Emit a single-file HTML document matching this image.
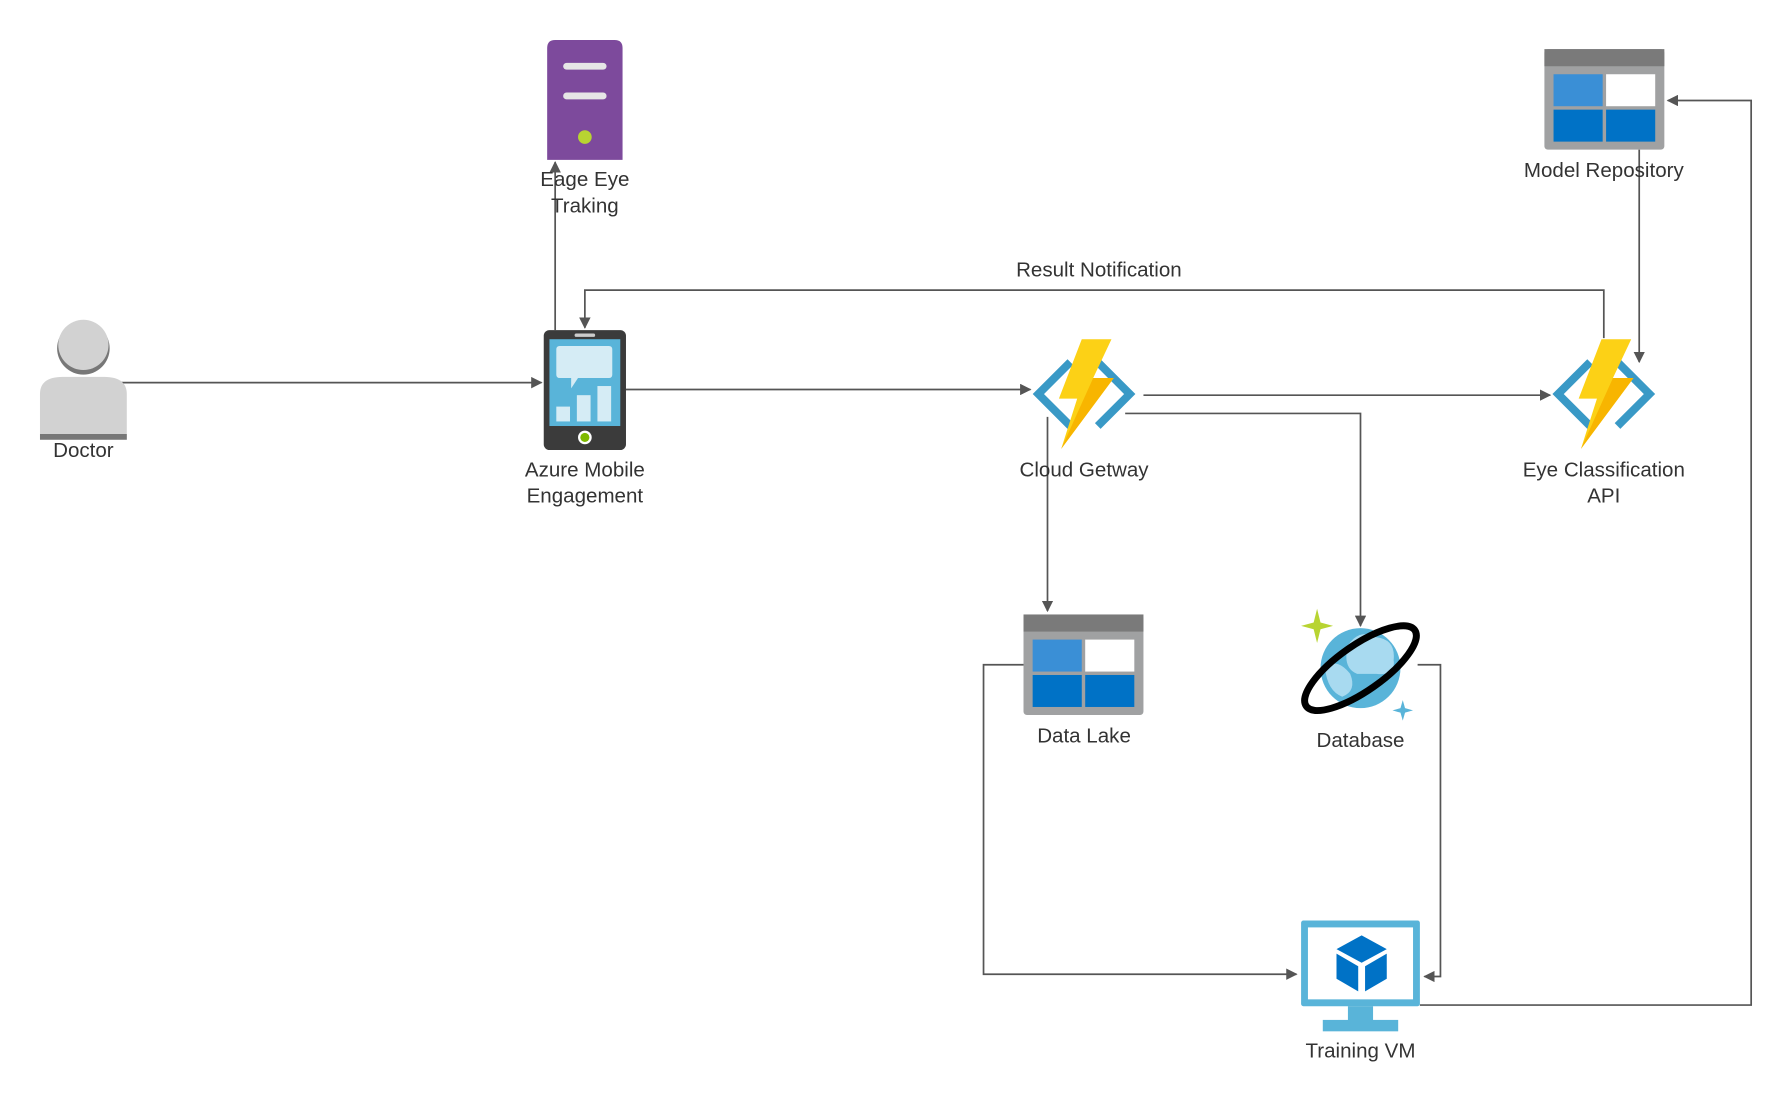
<!DOCTYPE html>
<html><head><meta charset="utf-8"><style>
html,body{margin:0;padding:0;background:#fff;}
svg{display:block;}
text{font-family:"Liberation Sans",sans-serif;font-size:18px;fill:#333;text-anchor:middle;}
</style></head><body>
<svg width="1790" height="1101" viewBox="0 0 1567 964" preserveAspectRatio="none" xmlns="http://www.w3.org/2000/svg">
<defs>
<marker id="a" markerWidth="10" markerHeight="10" refX="9" refY="5" orient="auto" markerUnits="userSpaceOnUse">
<path d="M0,0 L10,5 L0,10 z" fill="#555"/></marker>
<g id="fn">
<path d="M-12,-28 L-40,0 L-12,28" fill="none" stroke="#3999c6" stroke-width="7"/>
<path d="M12,-28 L40,0 L12,28" fill="none" stroke="#3999c6" stroke-width="7"/>
<path d="M-2,-48 L24,-48 L8,-14 L26,-14 L-20,48 L-6,4 L-22,4 z" fill="#fcd116"/>
<path d="M8,-14 L26,-14 L-20,48 z" fill="#f8b500"/>
</g>
<g id="st">
<rect x="0" y="0" width="105" height="88" rx="3" fill="#a0a1a2"/>
<rect x="0" y="0" width="105" height="15" fill="#7a7a7a"/>
<rect x="8" y="22" width="43" height="28" fill="#3a8fd6"/>
<rect x="54" y="22" width="43" height="28" fill="#fff"/>
<rect x="8" y="53" width="43" height="28" fill="#0072c6"/>
<rect x="54" y="53" width="43" height="28" fill="#0072c6"/>
</g>
</defs>
<g fill="none" stroke="#555" stroke-width="1.5">
<path d="M103,335 H474" marker-end="url(#a)"/>
<path d="M486,289 V142" marker-end="url(#a)"/>
<path d="M548,341 H902" marker-end="url(#a)"/>
<path d="M1001,346 H1357" marker-end="url(#a)"/>
<path d="M917,365 V535" marker-end="url(#a)"/>
<path d="M985,362 H1191 V548" marker-end="url(#a)"/>
<path d="M1404,296 V254 H512 V287" marker-end="url(#a)"/>
<path d="M1435,131 V317" marker-end="url(#a)"/>
<path d="M896,582 H861 V853 H1135" marker-end="url(#a)"/>
<path d="M1241,582 H1261 V855 H1247" marker-end="url(#a)"/>
<path d="M1243,880 H1533 V88 H1460" marker-end="url(#a)"/>
</g>
<circle cx="73" cy="305" r="23" fill="#777"/>
<circle cx="73" cy="302" r="22" fill="#d2d2d2"/>
<path d="M35,385 V345 Q35,330 55,330 H91 Q111,330 111,345 V385 z" fill="#d2d2d2"/>
<rect x="35" y="380" width="76" height="5" fill="#777"/>
<text x="73" y="400">Doctor</text>
<path d="M479,140 V42 Q479,35 486,35 H538 Q545,35 545,42 V140 z" fill="#7d4a9c"/>
<rect x="493" y="55" width="38" height="6" rx="3" fill="#e6e6e6"/>
<rect x="493" y="81" width="38" height="6" rx="3" fill="#e6e6e6"/>
<circle cx="512" cy="120" r="6" fill="#b8d432"/>
<text x="512" y="163">Eage Eye</text>
<text x="512" y="186">Traking</text>
<rect x="476" y="289" width="72" height="105" rx="5" fill="#3b3b3b"/>
<rect x="481" y="297" width="62" height="76" fill="#59b4d9"/>
<rect x="503" y="292" width="18" height="3" rx="1.5" fill="#ccc"/>
<path d="M490,303 H533 Q536,303 536,306 V328 Q536,331 533,331 H506 L500,340 L500,331 H490 Q487,331 487,328 V306 Q487,303 490,303 z" fill="#d5ecf5"/>
<rect x="487" y="356" width="12" height="13" fill="#d5ecf5"/>
<rect x="505" y="346" width="12" height="23" fill="#d5ecf5"/>
<rect x="523" y="338" width="12" height="31" fill="#d5ecf5"/>
<circle cx="512" cy="383" r="6" fill="#fff"/><circle cx="512" cy="383" r="4" fill="#7fba00"/>
<text x="512" y="417">Azure Mobile</text>
<text x="512" y="440">Engagement</text>
<use href="#fn" x="949" y="345"/>
<text x="949" y="417">Cloud Getway</text>
<use href="#fn" x="1404" y="345"/>
<text x="1404" y="417">Eye Classification</text>
<text x="1404" y="440">API</text>
<use href="#st" x="1352" y="43"/>
<text x="1404" y="155">Model Repository</text>
<use href="#st" x="896" y="538"/>
<text x="949" y="650">Data Lake</text>
<circle cx="1191" cy="585" r="35" fill="#59b4d9"/>
<path d="M1180,565 Q1190,550 1205,558 Q1222,560 1220,578 Q1222,592 1205,590 H1188 Q1175,585 1180,565 z" fill="#a8daf0"/>
<path d="M1160,585 Q1170,575 1182,590 Q1188,605 1175,610 Q1162,605 1160,585 z" fill="#a8daf0"/>
<ellipse cx="1191" cy="585" rx="58" ry="20" fill="none" stroke="#000" stroke-width="6" transform="rotate(-35 1191 585)"/>
<path d="M1153,533 L1156,545 L1167,548 L1156,551 L1153,563 L1150,551 L1139,548 L1150,545 z" fill="#b8d432"/>
<path d="M1228,613 L1230,620 L1237,622 L1230,624 L1228,631 L1226,624 L1219,622 L1226,620 z" fill="#59b4d9"/>
<text x="1191" y="654">Database</text>
<rect x="1139" y="806" width="104" height="75" rx="2" fill="#59b4d9"/>
<rect x="1145" y="812" width="92" height="63" fill="#fff"/>
<rect x="1180" y="881" width="22" height="13" fill="#59b4d9"/>
<rect x="1158" y="893" width="66" height="10" fill="#59b4d9"/>
<path d="M1192,819 L1214,831 L1192,843 L1170,831 z" fill="#0072c6"/>
<path d="M1170,835 L1189,846 L1189,868 L1170,857 z" fill="#0072c6"/>
<path d="M1214,835 L1195,846 L1195,868 L1214,857 z" fill="#0072c6"/>
<text x="1191" y="926">Training VM</text>
<text x="962" y="242">Result Notification</text>
</svg>
</body></html>
